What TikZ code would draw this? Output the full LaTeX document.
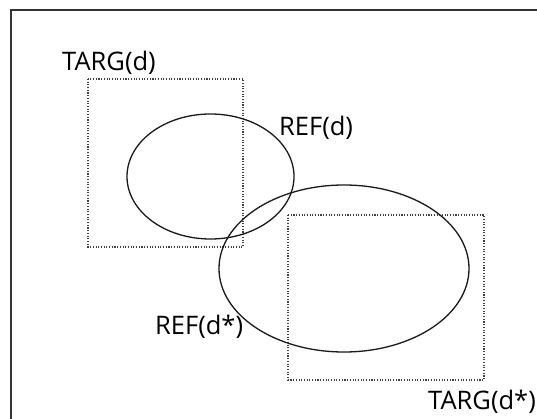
\documentclass[tikz,border=0pt]{standalone}
\usepackage{fontspec}
\setmainfont{Open Sans}
\usetikzlibrary{shapes.geometric}
\begin{document}
\begin{tikzpicture}[x=1pt,y=-1pt,
  setbox/.style={draw=black!75,line width=1.1pt,dash pattern=on 1.1pt off 1.6pt},
  refset/.style={draw=black!90,line width=1.3pt,ellipse,inner sep=0pt},
  lbl/.style={font=\fontsize{25.5}{30}\selectfont,inner sep=0pt,text=black}]
\useasboundingbox (0,0) rectangle (537,419);
\clip (0,0) rectangle (537,419);
\fill[white] (0,0) rectangle (537,419);
\draw[line width=1.6pt,black!80] (11,10) rectangle (560,440);
% TARG(d)
\draw[setbox] (88,79) rectangle (243,247);
% TARG(d*)
\draw[setbox] (288,215) rectangle (484,380);
% REF(d)
\node[refset,minimum width=167pt,minimum height=125pt] (refd) at (210.5,176.5) {};
% REF(d*)
\node[refset,minimum width=250pt,minimum height=167pt] (refds) at (344,268.5) {};
% labels
\node[lbl,anchor=base west] (ltd) at (62,71) {TARG(d)};
\node[lbl,anchor=base west] (lrd) at (279,136) {REF(d)};
\node[lbl,anchor=base west] (lrds) at (155,334) {REF(d*)};
\node[lbl,anchor=base east] (ltds) at (536,409) {TARG(d*)};
\end{tikzpicture}
\end{document}
